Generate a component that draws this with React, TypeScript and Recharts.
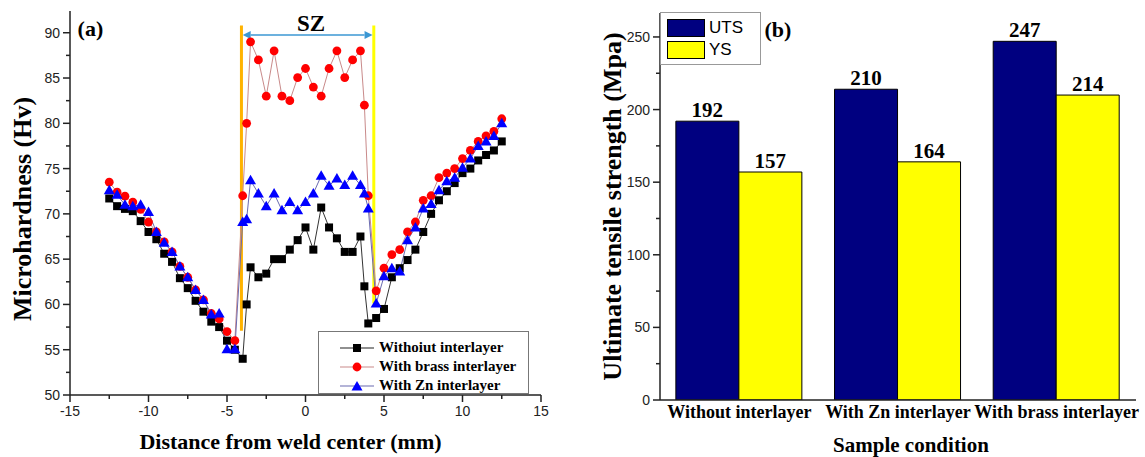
import React from "react";
import {
  LineChart,
  Line,
  BarChart,
  Bar,
  LabelList,
  XAxis,
  YAxis,
  Legend,
  ReferenceLine,
  ReferenceDot,
} from "recharts";

const SERIF = '"Liberation Serif", "Times New Roman", serif';
const SANS = '"Liberation Sans", Arial, sans-serif';

// (a) microhardness profile, distance in mm
const positions = [
  -12.5, -12, -11.5, -11, -10.5, -10, -9.5, -9, -8.5, -8, -7.5, -7, -6.5, -6, -5.5, -5, -4.5, -4,
  -3.75, -3.5, -3, -2.5, -2, -1.5, -1, -0.5, 0, 0.5, 1, 1.5, 2, 2.5, 3, 3.5, 3.75,
  4, 4.5, 5, 5.5, 6, 6.5, 7, 7.5, 8, 8.5, 9, 9.5, 10, 10.5, 11, 11.5, 12, 12.5,
];
const withoutInterlayer = [
  71.7, 70.85, 70.55, 70.3, 69.2, 68.0, 67.2, 65.6, 64.7, 62.9, 61.8, 60.4, 59.2, 58.1, 57.5, 56.0, 55.0, 54.0,
  60.0, 64.1, 63.0, 63.4, 65.0, 65.0, 66.05, 67.1, 68.5, 66.05, 70.7, 68.5, 67.3, 65.8, 65.8, 67.5, 62.0,
  57.9, 58.5, 59.5, 63.0, 64.0, 64.9, 66.05, 68.0, 70.0, 71.5, 72.5, 73.4, 74.5, 75.0, 75.9, 76.5, 77.0, 78.0,
];
const withBrass = [
  73.5, 72.4, 71.95, 71.3, 70.5, 69.1, 68.0, 66.9, 65.8, 64.2, 63.0, 61.6, 60.5, 59.0, 58.4, 57.0, 56.0, 72.0,
  80.0, 89.0, 87.0, 83.0, 88.0, 83.0, 82.5, 85.05, 86.05, 84.0, 83.0, 86.05, 88.0, 85.05, 87.0, 88.0, 82.0,
  72.0, 61.5, 64.0, 65.5, 66.05, 68.0, 69.1, 71.5, 72.0, 74.0, 74.5, 75.0, 76.1, 77.0, 78.0, 78.6, 79.1, 80.5,
];
const withZn = [
  72.6, 72.1, 71.0, 70.85, 71.0, 70.2, 68.0, 66.8, 65.8, 64.2, 63.0, 61.6, 60.5, 58.9, 59.0, 55.05, 55.05, 69.1,
  69.4, 73.7, 72.25, 70.85, 72.25, 70.4, 71.3, 70.4, 71.3, 72.25, 74.2, 73.1, 73.9, 73.2, 74.2, 73.2, 72.25,
  70.6, 60.1, 63.1, 64.0, 63.65, 67.1, 68.5, 70.6, 71.1, 72.6, 73.6, 74.0, 75.1, 76.1, 77.5, 78.0, 78.6, 80.0,
];
const distanceTicks = [-15, -12.5, -10, -7.5, -5, -2.5, 0, 2.5, 5, 7.5, 10, 12.5, 15];
const hardnessTicks = [50, 52.5, 55, 57.5, 60, 62.5, 65, 67.5, 70, 72.5, 75, 77.5, 80, 82.5, 85, 87.5, 90];

// (b) tensile results
const conditions = ["Without interlayer", "With Zn interlayer", "With brass interlayer"];
const utsValues = [192, 214, 247];
const ysValues = [157, 164, 210];
const utsLabels = ["192", "210", "247"];
const ysLabels = ["157", "164", "214"];
const strengthTicks = [0, 25, 50, 75, 100, 125, 150, 175, 200, 225, 250];

const hardnessRows = positions.map((x, i) => ({
  x,
  without: withoutInterlayer[i],
  brass: withBrass[i],
  zn: withZn[i],
}));

const strengthRows = conditions.map((cond, i) => ({
  cond,
  uts: utsValues[i],
  ys: ysValues[i],
  utsLabel: utsLabels[i],
  ysLabel: ysLabels[i],
}));

const AXIS = "#222";

const isMajor = (v: number, step: number) => Math.abs(v / step - Math.round(v / step)) < 1e-6;

const makeYTick = (step: number) => (props: any) => {
  const { x, y, payload } = props;
  const v = payload.value;
  const major = isMajor(v, step);
  const ax = x + 10;
  return (
    <g>
      <line x1={ax - (major ? 7 : 4)} y1={y} x2={ax} y2={y} stroke={AXIS} strokeWidth={1.5} />
      {major && (
        <text x={x} y={y} textAnchor="end" dominantBaseline="central" fontFamily={SANS} fontSize={14} fill="#222">
          {v}
        </text>
      )}
    </g>
  );
};

const makeXTick = (step: number) => (props: any) => {
  const { x, y, payload } = props;
  const v = payload.value;
  const major = isMajor(v, step);
  const ay = y - 10;
  return (
    <g>
      <line x1={x} y1={ay} x2={x} y2={ay + (major ? 7 : 4)} stroke={AXIS} strokeWidth={1.5} />
      {major && (
        <text x={x} y={y} dy="0.8em" textAnchor="middle" fontFamily={SANS} fontSize={14} fill="#222">
          {v}
        </text>
      )}
    </g>
  );
};

const SquareDot = (p: any) =>
  p.cx == null ? null : <rect x={p.cx - 4} y={p.cy - 4} width={8} height={8} fill="#000" />;
const CircleDot = (p: any) =>
  p.cx == null ? null : <circle cx={p.cx} cy={p.cy} r={4.4} fill="#FF0000" />;
const TriangleDot = (p: any) =>
  p.cx == null ? null : (
    <polygon points={`${p.cx},${p.cy - 5.5} ${p.cx - 5.5},${p.cy + 4} ${p.cx + 5.5},${p.cy + 4}`} fill="#0000FF" />
  );

const ArrowShape = (p: any) => {
  const { x1, y1, x2, y2 } = p;
  const h = 8;
  const w = 4;
  const c = "#3B97D3";
  return (
    <g>
      <line x1={x1 + h} y1={y1} x2={x2 - h} y2={y2} stroke={c} strokeWidth={1.5} />
      <polygon points={`${x1},${y1} ${x1 + h},${y1 - w} ${x1 + h},${y1 + w}`} fill={c} />
      <polygon points={`${x2},${y2} ${x2 - h},${y2 - w} ${x2 - h},${y2 + w}`} fill={c} />
    </g>
  );
};

const textAt = (label: string, size: number) => (p: any) =>
  (
    <text x={p.cx} y={p.cy} textAnchor="middle" dominantBaseline="central" fontFamily={SERIF} fontWeight="bold" fontSize={size} fill="#000">
      {label}
    </text>
  );

const hardnessLegend = [
  { name: "Withoiut interlayer", line: "#222", kind: "square" },
  { name: "With brass interlayer", line: "#C98A8A", kind: "circle" },
  { name: "With Zn interlayer", line: "#6A6AB0", kind: "triangle" },
];

const HardnessLegend = () => (
  <div
    style={{
      width: "100%",
      height: "100%",
      boxSizing: "border-box",
      border: "1.5px solid #777",
      background: "#fff",
      paddingTop: 6,
      fontFamily: SERIF,
      fontWeight: "bold",
      fontSize: 15,
      color: "#000",
    }}
  >
    {hardnessLegend.map((e) => (
      <div key={e.name} style={{ display: "flex", alignItems: "center", height: 19 }}>
        <svg width={58} height={14} style={{ marginLeft: 2 }}>
          <line x1={19} y1={7} x2={53} y2={7} stroke={e.line} strokeWidth={1.2} />
          {e.kind === "square" && <SquareDot cx={36} cy={7} />}
          {e.kind === "circle" && <CircleDot cx={36} cy={7} />}
          {e.kind === "triangle" && <TriangleDot cx={36} cy={7.5} />}
        </svg>
        <span style={{ whiteSpace: "nowrap" }}>{e.name}</span>
      </div>
    ))}
  </div>
);

const StrengthLegend = () => (
  <div
    style={{
      width: "100%",
      height: "100%",
      boxSizing: "border-box",
      border: "1px solid #999",
      background: "#fff",
      paddingTop: 4,
      paddingLeft: 6,
      fontFamily: SANS,
      fontSize: 17,
      color: "#000",
    }}
  >
    {[
      { name: "UTS", fill: "#000080" },
      { name: "YS", fill: "#FFFF00" },
    ].map((e) => (
      <div key={e.name} style={{ display: "flex", alignItems: "center", height: 22 }}>
        <div style={{ width: 38, height: 18, boxSizing: "border-box", background: e.fill, border: "1px solid #000", marginRight: 4 }} />
        <span>{e.name}</span>
      </div>
    ))}
  </div>
);

const axisLine = { stroke: AXIS, strokeWidth: 1.5 };
const titleStyle = { fontFamily: SERIF, fontWeight: "bold", fill: "#000" };

export default function App() {
  return (
    <div style={{ position: "absolute", left: 0, top: 0, width: 1145, height: 457, background: "#fff" }}>
      <div style={{ position: "absolute", left: 0, top: 0 }}>
        <LineChart width={560} height={457} data={hardnessRows} margin={{ top: 11, right: 19, bottom: 0, left: 0 }}>
          <XAxis
            dataKey="x"
            type="number"
            domain={[-15, 15]}
            allowDataOverflow
            ticks={distanceTicks}
            interval={0}
            height={62}
            tickLine={false}
            tickSize={7}
            tickMargin={3}
            tick={makeXTick(5)}
            axisLine={axisLine}
            label={{
              value: "Distance from weld center (mm)",
              position: "insideBottom",
              offset: 8,
              dx: -15,
              fontSize: 22,
              ...titleStyle,
            }}
          />
          <YAxis
            type="number"
            domain={[50, 92.4]}
            allowDataOverflow
            ticks={hardnessTicks}
            interval={0}
            width={70}
            tickLine={false}
            tickSize={7}
            tickMargin={3}
            tick={makeYTick(5)}
            axisLine={axisLine}
            label={{
              value: "Microhardness (Hv)",
              angle: -90,
              position: "insideLeft",
              offset: 22,
              dy: 6,
              fontSize: 26,
              ...titleStyle,
              style: { textAnchor: "middle" },
            }}
          />
          <XAxis xAxisId="top" orientation="top" type="number" domain={[-15, 15]} height={0} tick={false} tickLine={false} axisLine={axisLine} />
          <YAxis yAxisId="right" orientation="right" type="number" domain={[50, 92.4]} width={0} tick={false} tickLine={false} axisLine={axisLine} />
          <ReferenceLine segment={[{ x: -4.08, y: 57.1 }, { x: -4.08, y: 90.8 }]} stroke="#FFB300" strokeWidth={3} />
          <ReferenceLine segment={[{ x: 4.35, y: 60.1 }, { x: 4.35, y: 90.8 }]} stroke="#FFFF00" strokeWidth={3} />
          <ReferenceLine segment={[{ x: -4.0, y: 89.75 }, { x: 4.27, y: 89.75 }]} shape={ArrowShape} />
          <ReferenceDot x={0.35} y={91.0} r={0} shape={textAt("SZ", 23)} />
          <ReferenceDot x={-13.7} y={90.5} r={0} shape={textAt("(a)", 22)} />
          <Legend
            layout="horizontal"
            verticalAlign="middle"
            align="center"
            wrapperStyle={{ left: 318, top: 331, width: 211, height: 63 }}
            content={() => <HardnessLegend />}
          />
          <Line dataKey="without" stroke="#333" strokeWidth={1} dot={SquareDot} isAnimationActive={false} />
          <Line dataKey="brass" stroke="#C98A8A" strokeWidth={1} dot={CircleDot} isAnimationActive={false} />
          <Line dataKey="zn" stroke="#6A6AB0" strokeWidth={1} dot={TriangleDot} isAnimationActive={false} />
        </LineChart>
      </div>
      <div style={{ position: "absolute", left: 560, top: 0 }}>
        <BarChart
          width={585}
          height={457}
          data={strengthRows}
          margin={{ top: 13, right: 9, bottom: 0, left: 0 }}
          barCategoryGap="10%"
          barGap={0}
        >
          <XAxis
            dataKey="cond"
            height={57}
            interval={0}
            tickLine={false}
            tickSize={0}
            tickMargin={5}
            tick={{ fontFamily: SERIF, fontWeight: "bold", fontSize: 18, fill: "#000" }}
            axisLine={axisLine}
            label={{ value: "Sample condition", position: "insideBottom", offset: 5, dx: 13, fontSize: 21, ...titleStyle }}
          />
          <YAxis
            type="number"
            domain={[0, 266.5]}
            allowDataOverflow
            ticks={strengthTicks}
            interval={0}
            width={100}
            tickLine={false}
            tickSize={7}
            tickMargin={3}
            tick={makeYTick(50)}
            axisLine={axisLine}
            label={{
              value: "Ultimate tensile strength (Mpa)",
              angle: -90,
              position: "insideLeft",
              offset: 52,
              fontSize: 26,
              ...titleStyle,
              style: { textAnchor: "middle" },
            }}
          />
          <XAxis xAxisId="top" dataKey="cond" orientation="top" height={0} tick={false} tickLine={false} axisLine={axisLine} />
          <YAxis yAxisId="right" orientation="right" domain={[0, 266.5]} width={0} tick={false} tickLine={false} axisLine={axisLine} />
          <Legend
            layout="horizontal"
            verticalAlign="middle"
            align="center"
            wrapperStyle={{ left: 100, top: 12, width: 101, height: 53 }}
            content={() => <StrengthLegend />}
          />
          <ReferenceDot x="With Zn interlayer" y={255} r={0} ifOverflow="visible" shape={(p: any) => textAt("(b)", 22)({ cx: 218, cy: p.cy })} />
          <Bar dataKey="uts" fill="#000080" stroke="#000" strokeWidth={1} isAnimationActive={false}>
            <LabelList dataKey="utsLabel" position="top" offset={4} fill="#000" fontFamily={SERIF} fontWeight="bold" fontSize={21} />
          </Bar>
          <Bar dataKey="ys" fill="#FFFF00" stroke="#000" strokeWidth={1} isAnimationActive={false}>
            <LabelList dataKey="ysLabel" position="top" offset={4} fill="#000" fontFamily={SERIF} fontWeight="bold" fontSize={21} />
          </Bar>
        </BarChart>
      </div>
    </div>
  );
}
